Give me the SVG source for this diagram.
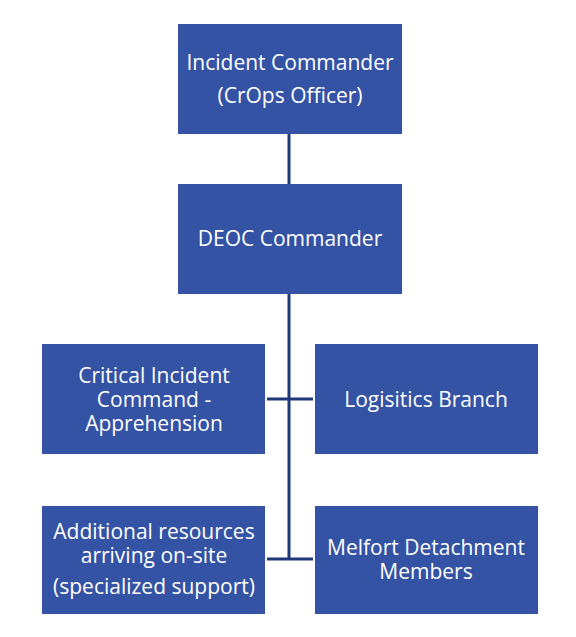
<svg xmlns="http://www.w3.org/2000/svg" width="576" height="637" viewBox="0 0 576 637">
<style>
.box{fill:#3453A5}
.t{fill:#fff;font-family:"Open Sans","Noto Sans",sans-serif;font-size:21px;text-anchor:middle}
.c{stroke:#1E3A7A;stroke-width:3;fill:none}
</style>
<rect width="576" height="637" fill="#fff"/>
<g id="connectors">
<line class="c" x1="289" y1="134" x2="289" y2="184"/>
<line class="c" x1="289" y1="294" x2="289" y2="560"/>
<line class="c" x1="267" y1="399" x2="313" y2="399"/>
<line class="c" x1="267" y1="559" x2="313" y2="559"/>
</g>
<g id="incident-commander">
<rect class="box" x="178" y="24" width="224" height="110"/>
<text class="t" x="290" y="70">Incident Commander</text>
<text class="t" x="290" y="103">(CrOps Officer)</text>
</g>
<g id="deoc-commander">
<rect class="box" x="178" y="184" width="224" height="110"/>
<text class="t" x="290" y="246">DEOC Commander</text>
</g>
<g id="critical-incident">
<rect class="box" x="42" y="344" width="223" height="110"/>
<text class="t" x="154" y="383">Critical Incident</text>
<text class="t" x="154" y="407">Command -</text>
<text class="t" x="154" y="431">Apprehension</text>
</g>
<g id="logistics">
<rect class="box" x="315" y="344" width="223" height="110"/>
<text class="t" x="426" y="407">Logisitics Branch</text>
</g>
<g id="additional">
<rect class="box" x="42" y="506" width="223" height="108"/>
<text class="t" x="154" y="539">Additional resources</text>
<text class="t" x="154" y="563">arriving on-site</text>
<text class="t" x="154" y="594">(specialized support)</text>
</g>
<g id="melfort">
<rect class="box" x="315" y="506" width="223" height="108"/>
<text class="t" x="426" y="555">Melfort Detachment</text>
<text class="t" x="426" y="579">Members</text>
</g>
</svg>
